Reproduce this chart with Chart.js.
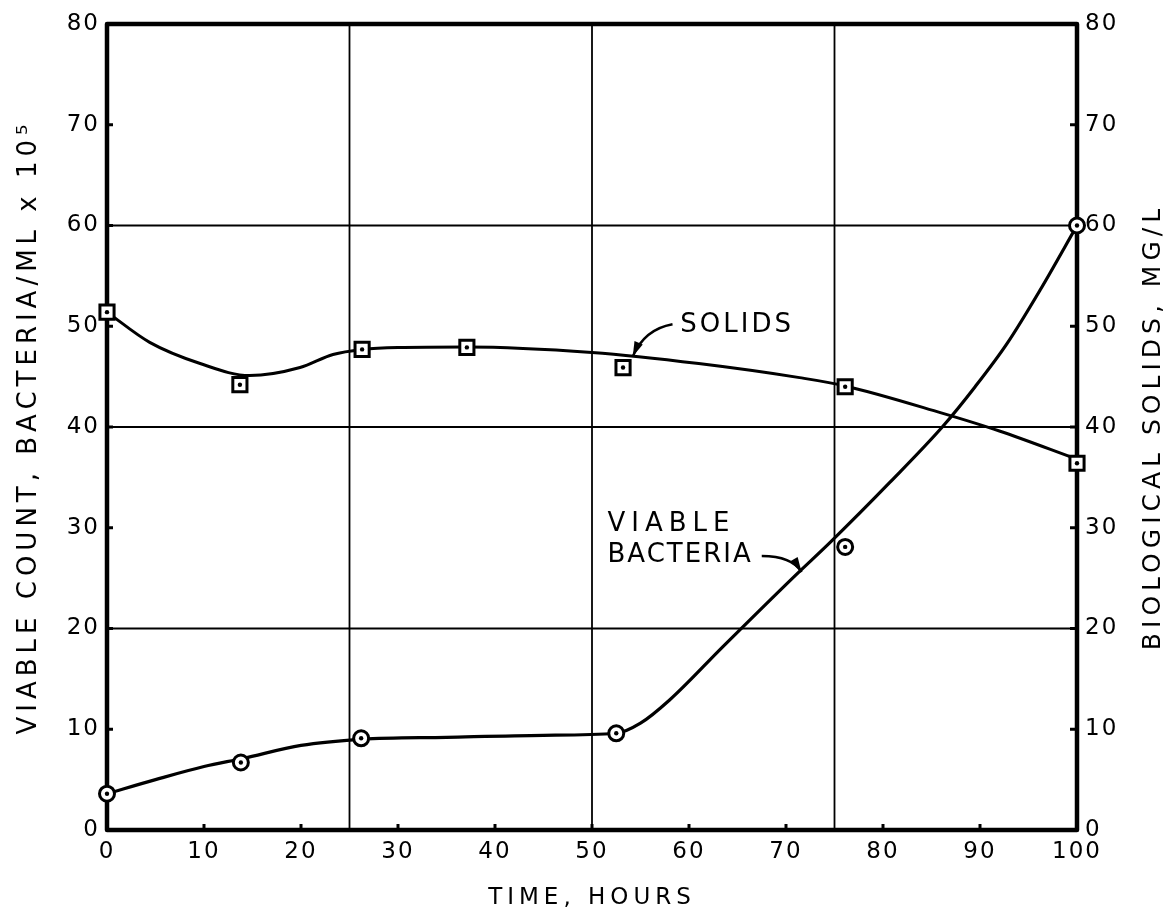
<!DOCTYPE html>
<html>
<head>
<meta charset="utf-8">
<script src="https://cdn.jsdelivr.net/npm/chart.js@4.4.1/dist/chart.umd.min.js"></script>
<style>
  html, body { margin: 0; padding: 0; background: #fff; }
  #wrap { width: 1173px; height: 917px; }
</style>
</head>
<body>
<div id="wrap"><canvas id="c"></canvas></div>
<script>
// ---- data ----
const bacteriaHours = [0, 13.8, 26.2, 52.5, 76.1, 100];
const bacteriaCount = [3.6, 6.7, 9.1, 9.6, 28.1, 60];
const solidsHours = [0, 13.7, 26.3, 37.1, 53.2, 76.1, 100];
const solidsMgL = [51.4, 44.2, 47.7, 47.9, 45.9, 44.0, 36.4];

// hand-drawn fitted curves
const bacteriaCurveHours = [0, 5, 10, 14, 20, 26.3, 35, 45, 52.5, 55, 58, 63.5, 71, 74.5, 80.7, 86.2, 89.5, 92.8, 96.2, 100];
const bacteriaCurveCount = [3.6, 5.0, 6.3, 7.1, 8.4, 9.0, 9.2, 9.4, 9.6, 10.6, 12.9, 18.2, 25.3, 28.5, 34.5, 40.1, 44.0, 48.3, 53.6, 60.0];
const solidsCurveHours = [0, 4.4, 9.6, 14.7, 19.9, 23.3, 26.3, 30, 37, 50, 61, 71.4, 76, 86, 92, 100];
const solidsCurveMgL = [51.4, 48.4, 46.3, 45.1, 45.9, 47.2, 47.7, 47.9, 47.95, 47.4, 46.3, 44.9, 44.1, 41.4, 39.6, 36.8];

const xTicksMin = 0, xTicksMax = 100, xStep = 10;
const yTicksMin = 0, yTicksMax = 80, yStep = 10;
const gridHours = [25, 50, 75];
const gridValues = [20, 40, 60];

const xTitle = 'TIME, HOURS';
const yLeftTitle = 'VIABLE COUNT, BACTERIA/ML x 10\u2075';
const yRightTitle = 'BIOLOGICAL SOLIDS, MG/L';
const solidsLabel = 'SOLIDS';
const bacteriaLabel1 = 'VIABLE';
const bacteriaLabel2 = 'BACTERIA';

// ---- helpers ----
const INK = '#000';
const FONT = 'DejaVu Sans';
const pts = (xs, ys) => xs.map((x, i) => ({x: x, y: ys[i]}));

// annotation anchors (data units)
const solidsTextAt = {x: 59.1, y: 50.1};
const solidsArrow = {from: {x: 58.3, y: 50.2}, ctrl: {x: 55.4, y: 49.7}, to: {x: 54.2, y: 47.0}};
const bactText1At = {x: 51.6, y: 30.3};
const bactText2At = {x: 51.6, y: 27.3};
const bactArrow = {from: {x: 67.5, y: 27.2}, ctrl: {x: 70.6, y: 27.2}, to: {x: 71.6, y: 25.6}};

function drawArrow(ctx, xs, ys, a) {
  const p0 = [xs.getPixelForValue(a.from.x), ys.getPixelForValue(a.from.y)];
  const c = [xs.getPixelForValue(a.ctrl.x), ys.getPixelForValue(a.ctrl.y)];
  const p1 = [xs.getPixelForValue(a.to.x), ys.getPixelForValue(a.to.y)];
  ctx.beginPath();
  ctx.moveTo(p0[0], p0[1]);
  ctx.quadraticCurveTo(c[0], c[1], p1[0], p1[1]);
  ctx.lineWidth = 2.5;
  ctx.stroke();
  const ang = Math.atan2(p1[1] - c[1], p1[0] - c[0]);
  const L = 15, W = 4.5;
  ctx.beginPath();
  ctx.moveTo(p1[0], p1[1]);
  ctx.lineTo(p1[0] - L * Math.cos(ang) + W * Math.sin(ang), p1[1] - L * Math.sin(ang) - W * Math.cos(ang));
  ctx.lineTo(p1[0] - L * Math.cos(ang) - W * Math.sin(ang), p1[1] - L * Math.sin(ang) + W * Math.cos(ang));
  ctx.closePath();
  ctx.fill();
}

const decor = {
  id: 'decor',
  beforeDraw(chart) {
    chart.ctx.letterSpacing = '5px';
  },
  beforeDatasetsDraw(chart) {
    const {ctx, chartArea: a, scales} = chart;
    const x = scales.x, y = scales.y, y1 = scales.y1;
    ctx.save();
    ctx.strokeStyle = INK;
    ctx.lineCap = 'butt';
    const seg = (x0, y0, x1_, y1_) => { ctx.beginPath(); ctx.moveTo(x0, y0); ctx.lineTo(x1_, y1_); ctx.stroke(); };
    ctx.lineWidth = 1.8;
    gridHours.forEach(v => { const px = x.getPixelForValue(v); seg(px, a.top, px, a.bottom); });
    gridValues.forEach(v => { const py = y.getPixelForValue(v); seg(a.left, py, a.right, py); });
    ctx.lineWidth = 3;
    x.ticks.forEach(t => { const px = x.getPixelForValue(t.value); seg(px, a.bottom, px, a.bottom - 6); });
    y.ticks.forEach(t => { const py = y.getPixelForValue(t.value); seg(a.left, py, a.left + 6, py); });
    y1.ticks.forEach(t => { const py = y1.getPixelForValue(t.value); seg(a.right, py, a.right - 7, py); });
    ctx.lineWidth = 4.5;
    ctx.lineJoin = 'round';
    ctx.strokeRect(a.left, a.top, a.width, a.height);
    ctx.restore();
  },
  afterDatasetsDraw(chart) {
    const {ctx, chartArea: a, scales} = chart;
    const x = scales.x, y = scales.y, y1 = scales.y1;
    ctx.save();
    ctx.fillStyle = INK;
    ctx.strokeStyle = INK;
    ctx.textBaseline = 'middle';
    ctx.textAlign = 'left';
    ctx.font = '26px "' + FONT + '"';
    ctx.letterSpacing = '3px';
    ctx.fillText(solidsLabel, x.getPixelForValue(solidsTextAt.x), y1.getPixelForValue(solidsTextAt.y));
    ctx.letterSpacing = '6px';
    ctx.fillText(bacteriaLabel1, x.getPixelForValue(bactText1At.x), y.getPixelForValue(bactText1At.y));
    ctx.letterSpacing = '2px';
    ctx.fillText(bacteriaLabel2, x.getPixelForValue(bactText2At.x), y.getPixelForValue(bactText2At.y));
    drawArrow(ctx, x, y1, solidsArrow);
    drawArrow(ctx, x, y, bactArrow);
    // right axis title, reading bottom to top
    ctx.translate(y1.right - 20, (a.top + a.bottom) / 2);
    ctx.rotate(-Math.PI / 2);
    ctx.textAlign = 'center';
    ctx.font = '25px "' + FONT + '"';
    ctx.letterSpacing = '5px';
    ctx.fillText(yRightTitle, 0, 0);
    ctx.restore();
    chart.ctx.letterSpacing = '2px';
  }
};

const tickFont = {family: FONT, size: 23};

new Chart(document.getElementById('c'), {
  type: 'line',
  data: {
    datasets: [
      {
        label: 'Solids curve', data: pts(solidsCurveHours, solidsCurveMgL), yAxisID: 'y1', order: 3,
        borderColor: INK, borderWidth: 3, pointRadius: 0, cubicInterpolationMode: 'monotone', fill: false
      },
      {
        label: 'Viable bacteria curve', data: pts(bacteriaCurveHours, bacteriaCurveCount), yAxisID: 'y', order: 3,
        borderColor: INK, borderWidth: 3.2, pointRadius: 0, cubicInterpolationMode: 'monotone', fill: false
      },
      {
        label: 'Solids', data: pts(solidsHours, solidsMgL), yAxisID: 'y1', showLine: false, clip: false, order: 2,
        pointStyle: 'rect', pointRadius: 10, pointBackgroundColor: '#fff', pointBorderColor: INK, pointBorderWidth: 3
      },
      {
        label: 'Viable bacteria', data: pts(bacteriaHours, bacteriaCount), yAxisID: 'y', showLine: false, clip: false, order: 2,
        pointStyle: 'circle', pointRadius: 7.5, pointBackgroundColor: '#fff', pointBorderColor: INK, pointBorderWidth: 3
      },
      {
        label: 'Solids dots', data: pts(solidsHours, solidsMgL), yAxisID: 'y1', showLine: false, clip: false, order: 1,
        pointStyle: 'circle', pointRadius: 2.2, pointBackgroundColor: INK, pointBorderColor: INK, pointBorderWidth: 0
      },
      {
        label: 'Bacteria dots', data: pts(bacteriaHours, bacteriaCount), yAxisID: 'y', showLine: false, clip: false, order: 1,
        pointStyle: 'circle', pointRadius: 2.2, pointBackgroundColor: INK, pointBorderColor: INK, pointBorderWidth: 0
      }
    ]
  },
  options: {
    responsive: true,
    maintainAspectRatio: false,
    animation: false,
    events: [],
    layout: {padding: {top: 24, left: 0, right: 0, bottom: 0}},
    plugins: {legend: {display: false}, tooltip: {enabled: false}},
    scales: {
      x: {
        type: 'linear', position: 'bottom', min: xTicksMin, max: xTicksMax,
        afterFit: s => { s.height = 87; },
        grid: {display: false, drawTicks: false}, border: {display: false},
        ticks: {stepSize: xStep, color: INK, font: tickFont, padding: 8, maxRotation: 0, z: 1},
        title: {display: true, text: xTitle, color: INK, font: {family: FONT, size: 23}, padding: {top: 0, bottom: 5}}
      },
      y: {
        type: 'linear', position: 'left', min: yTicksMin, max: yTicksMax,
        afterFit: s => { s.width = 107; },
        grid: {display: false, drawTicks: false}, border: {display: false},
        ticks: {stepSize: yStep, color: INK, font: tickFont, padding: 7, z: 1},
        title: {display: true, text: yLeftTitle, color: INK, font: {family: FONT, size: 26}, padding: {top: 14, bottom: 0}}
      },
      y1: {
        type: 'linear', position: 'right', min: yTicksMin, max: yTicksMax,
        afterFit: s => { s.width = 96; },
        grid: {display: false, drawTicks: false}, border: {display: false},
        ticks: {stepSize: yStep, color: INK, font: tickFont, padding: 8, z: 1}
      }
    }
  },
  plugins: [decor]
});
</script>
</body>
</html>
